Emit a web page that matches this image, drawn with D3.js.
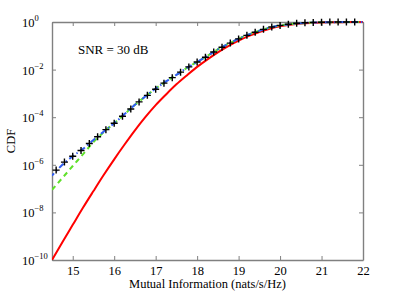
<!DOCTYPE html>
<html>
<head>
<meta charset="utf-8">
<script src="https://cdn.jsdelivr.net/npm/d3@7"></script>
<style>
  body { margin: 0; background: #fff; }
  svg { display: block; font-family: "Liberation Serif", "Times New Roman", serif; }
</style>
</head>
<body>
<div id="chart"></div>
<script>
// mutual information grid (nats/s/Hz) for the curves
var redX   = [14.5, 14.75, 15, 15.25, 15.5, 15.75, 16, 16.25, 16.5, 16.75, 17, 17.25, 17.5, 17.75, 18, 18.25, 18.5, 18.75, 19, 19.25, 19.5, 19.75, 20, 20.25, 20.5, 20.75, 21, 21.25, 21.5, 21.75, 22];
var redCdf = [1e-10, 5.6e-10, 3.0e-9, 1.6e-8, 7.9e-8, 3.8e-7, 1.7e-6, 7.1e-6, 2.8e-5, 1.0e-4, 3.2e-4, 9.0e-4, 2.4e-3, 5.7e-3, 0.013, 0.027, 0.053, 0.097, 0.165, 0.26, 0.38, 0.52, 0.66, 0.77, 0.86, 0.915, 0.952, 0.973, 0.986, 0.993, 0.997];

var blueX   = [14.5, 14.75, 15, 15.25, 15.5, 15.75, 16, 16.25, 16.5, 16.75, 17, 17.25, 17.5, 17.75, 18, 18.25, 18.5, 18.75, 19, 19.25, 19.5, 19.75, 20, 20.25, 20.5, 20.75, 21, 21.5, 22];
var blueCdf = [3.5e-7, 1.0e-6, 2.3e-6, 4.7e-6, 1.1e-5, 2.5e-5, 5.6e-5, 1.35e-4, 3.3e-4, 7.4e-4, 1.6e-3, 3.2e-3, 6.0e-3, 0.0117, 0.021, 0.038, 0.071, 0.12, 0.2, 0.3, 0.43, 0.575, 0.71, 0.81, 0.89, 0.94, 0.973, 0.991, 0.998];

var greenX   = [14.5, 14.75, 15, 15.25, 15.5, 15.75, 16, 16.25, 16.5, 16.75, 17, 17.25, 17.5, 17.75, 18, 18.25, 18.5, 18.75, 19, 19.25, 19.5, 19.75, 20, 20.25, 20.5, 20.75, 21, 21.5, 22];
var greenCdf = [8.9e-8, 2.8e-7, 8.9e-7, 2.8e-6, 9.0e-6, 2.4e-5, 5.6e-5, 1.35e-4, 3.3e-4, 7.4e-4, 1.6e-3, 3.2e-3, 6.0e-3, 0.0117, 0.021, 0.038, 0.071, 0.12, 0.2, 0.3, 0.43, 0.575, 0.71, 0.81, 0.89, 0.94, 0.973, 0.991, 0.998];

// simulated points (black +)
var simX   = [14.6, 14.8, 15, 15.2, 15.4, 15.6, 15.8, 16, 16.2, 16.4, 16.6, 16.8, 17, 17.2, 17.4, 17.6, 17.8, 18, 18.2, 18.4, 18.6, 18.8, 19, 19.2, 19.4, 19.6, 19.8, 20, 20.2, 20.4, 20.6, 20.8, 21, 21.2, 21.4, 21.6, 21.8];
var simCdf = [6.0e-7, 1.3e-6, 2.3e-6, 4.0e-6, 7.9e-6, 1.5e-5, 3.0e-5, 5.6e-5, 1.1e-4, 2.2e-4, 4.4e-4, 8.3e-4, 1.5e-3, 2.7e-3, 4.6e-3, 7.8e-3, 0.013, 0.021, 0.033, 0.055, 0.087, 0.13, 0.195, 0.275, 0.37, 0.49, 0.62, 0.72, 0.81, 0.88, 0.93, 0.96, 0.977, 0.989, 0.993, 0.995, 0.998];

var xTicks = [15, 16, 17, 18, 19, 20, 21, 22];
var yTickExp = [0, -2, -4, -6, -8, -10];

var plot = { left: 52, right: 363, top: 22, bottom: 260 };

var svg = d3.select("#chart")
    .append("svg")
    .attr("width", 399)
    .attr("height", 293);

var x = d3.scaleLinear().domain([14.5, 22]).range([plot.left, plot.right]);
var y = d3.scaleLog().domain([1e-10, 1]).range([plot.bottom, plot.top]);

var yTicks = yTickExp.map(function(e) { return Math.pow(10, e); });

svg.append("clipPath").attr("id", "clip")
  .append("rect")
    .attr("x", plot.left).attr("y", plot.top - 2)
    .attr("width", plot.right - plot.left).attr("height", plot.bottom - plot.top + 2);

// axes (box with inward ticks)
var axisColor = "#808080";
var serif = "Liberation Serif, Times New Roman, serif";

function styleAxis(g) {
    g.attr("font-family", serif);
    g.selectAll("path.domain").attr("stroke", axisColor).attr("stroke-width", 1.4);
    g.selectAll(".tick line").attr("stroke", axisColor).attr("stroke-width", 1);
}

svg.append("g")
    .attr("transform", "translate(0," + plot.bottom + ")")
    .call(d3.axisBottom(x).tickValues(xTicks).tickSize(-4).tickSizeOuter(0).tickPadding(6).tickFormat(d3.format("d")))
    .call(styleAxis)
    .call(function(g) {
        g.selectAll(".tick text").attr("fill", "#000").attr("font-size", 12.5);
    });

svg.append("g")
    .attr("transform", "translate(0," + plot.top + ")")
    .call(d3.axisTop(x).tickValues(xTicks).tickSize(-4).tickSizeOuter(0).tickFormat(""))
    .call(styleAxis);

svg.append("g")
    .attr("transform", "translate(" + plot.left + ",0)")
    .call(d3.axisLeft(y).tickValues(yTicks).tickSize(-4).tickSizeOuter(0).tickFormat(""))
    .call(styleAxis);

svg.append("g")
    .attr("transform", "translate(" + plot.right + ",0)")
    .call(d3.axisRight(y).tickValues(yTicks).tickSize(-4).tickSizeOuter(0).tickFormat(""))
    .call(styleAxis);

// y tick labels: 10^e
var yLab = svg.append("g").selectAll("text")
    .data(yTickExp)
    .enter().append("text")
    .attr("x", 22)
    .attr("y", function(e) { return y(Math.pow(10, e)) + 5; })
    .attr("font-size", 12.5)
    .attr("fill", "#000");
yLab.append("tspan").text("10");
yLab.append("tspan")
    .attr("dy", -6)
    .attr("font-size", 8.5)
    .text(function(e) { return e === 0 ? "0" : "\u2212" + Math.abs(e); });

// curves
var line = d3.line()
    .x(function(d) { return x(d[0]); })
    .y(function(d) { return y(d[1]); })
    .curve(d3.curveMonotoneX);

var lines = svg.append("g").attr("clip-path", "url(#clip)");

lines.append("path")
    .datum(d3.zip(redX, redCdf))
    .attr("d", line)
    .attr("fill", "none")
    .attr("stroke", "#ff0000")
    .attr("stroke-width", 2);

lines.append("path")
    .datum(d3.zip(greenX, greenCdf))
    .attr("d", line)
    .attr("fill", "none")
    .attr("stroke", "#5fe02a")
    .attr("stroke-width", 2)
    .attr("stroke-dasharray", "5,4");

lines.append("path")
    .datum(d3.zip(blueX, blueCdf))
    .attr("d", line)
    .attr("fill", "none")
    .attr("stroke", "#2f5cf0")
    .attr("stroke-width", 2)
    .attr("stroke-dasharray", "6,3,1.5,3")
    .attr("stroke-dashoffset", 3);

// + markers
var ms = 3.5;
svg.append("g").selectAll("path")
    .data(d3.zip(simX, simCdf))
    .enter().append("path")
    .attr("d", function(d) {
        var cx = x(d[0]), cy = y(d[1]);
        return "M" + (cx - ms) + "," + cy + "H" + (cx + ms) + "M" + cx + "," + (cy - ms) + "V" + (cy + ms);
    })
    .attr("stroke", "#000")
    .attr("stroke-width", 1.4)
    .attr("fill", "none");

// labels
svg.append("text")
    .attr("x", 78)
    .attr("y", 54)
    .attr("font-size", 13)
    .attr("fill", "#000")
    .text("SNR = 30 dB");

svg.append("text")
    .attr("x", (plot.left + plot.right) / 2)
    .attr("y", 288)
    .attr("text-anchor", "middle")
    .attr("font-size", 12.5)
    .attr("fill", "#000")
    .text("Mutual Information (nats/s/Hz)");

svg.append("text")
    .attr("transform", "translate(15," + ((plot.top + plot.bottom) / 2) + ") rotate(-90)")
    .attr("text-anchor", "middle")
    .attr("font-size", 12.5)
    .attr("fill", "#000")
    .text("CDF");
</script>
</body>
</html>
